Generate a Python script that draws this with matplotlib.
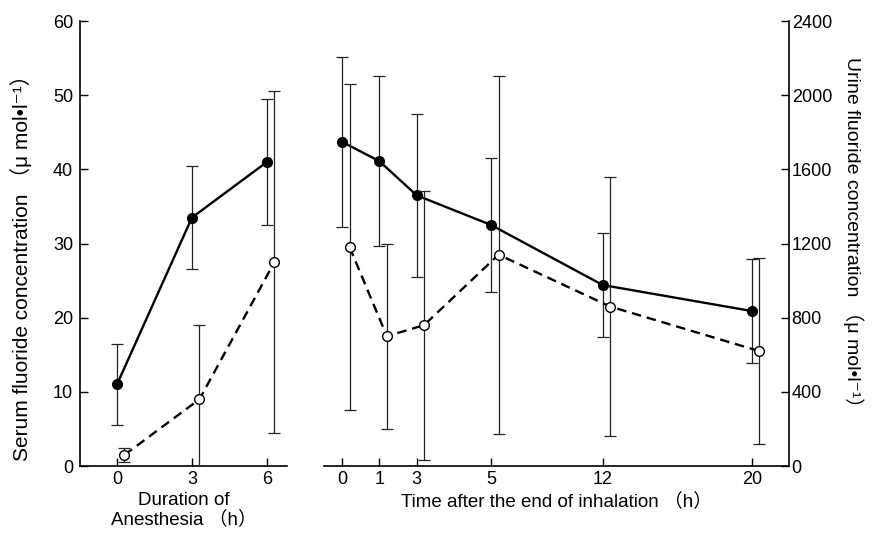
"""Serum (filled) and urine (open) fluoride during anesthesia and after inhalation."""
import matplotlib
matplotlib.use("Agg")
import matplotlib.pyplot as plt

plt.rcParams["font.family"] = ["Liberation Sans", "Noto Sans CJK JP", "DejaVu Sans"]

# --- data ---
# during anesthesia (h)
ANES_H = [0, 3, 6]
ANES_SERUM = [11.0, 33.5, 41.0]          # umol/l
ANES_SERUM_SD = [5.5, 7.0, 8.5]
ANES_URINE = [60, 360, 1100]             # umol/l
ANES_URINE_SD = [38, 400, 920]

# after the end of inhalation (h); axis is not to scale
POST_LABELS = ["0", "1", "3", "5", "12", "20"]
POST_SERUM = [43.7, 41.1, 36.5, 32.5, 24.4, 20.9]
POST_SERUM_SD = [11.5, 11.5, 11.0, 9.0, 7.0, 7.0]
POST_URINE = [1180, 700, 760, 1140, 860, 620]
POST_URINE_SD = [880, 500, 725, 965, 700, 500]

# layout: tick position of each post-inhalation time on the broken axis
POST_POS = [0, 1, 2, 4, 7, 11]
OPEN_SHIFT_ANES = 0.3
OPEN_SHIFT_POST = 0.2

FS = 13.5
err_kw = dict(ecolor="#222222", elinewidth=0.9, capsize=4.5, capthick=0.9)
solid_kw = dict(color="black", lw=1.7, marker="o", ms=7, mfc="black", mec="black", zorder=3)
dash_kw = dict(color="black", lw=1.7, ls=(0, (4, 2.5)), marker="o", ms=7, mfc="white",
               mec="black", mew=1.0, zorder=3)

fig = plt.figure(figsize=(8.73, 5.34), dpi=100)
axl = fig.add_axes([0.0916, 0.1273, 0.2371, 0.8333])
axr = fig.add_axes([0.3711, 0.1273, 0.5326, 0.8333])
axl2 = axl.twinx()
axr2 = axr.twinx()

# left panel
axl.errorbar(ANES_H, ANES_SERUM, yerr=ANES_SERUM_SD, fmt="none", **err_kw)
axl.plot(ANES_H, ANES_SERUM, **solid_kw)
xs = [h + OPEN_SHIFT_ANES for h in ANES_H]
axl2.errorbar(xs, ANES_URINE, yerr=ANES_URINE_SD, fmt="none", **err_kw)
axl2.plot(xs, ANES_URINE, **dash_kw)

# right panel
axr.errorbar(POST_POS, POST_SERUM, yerr=POST_SERUM_SD, fmt="none", **err_kw)
axr.plot(POST_POS, POST_SERUM, **solid_kw)
xs = [p + OPEN_SHIFT_POST for p in POST_POS]
axr2.errorbar(xs, POST_URINE, yerr=POST_URINE_SD, fmt="none", **err_kw)
axr2.plot(xs, POST_URINE, **dash_kw)

for ax in (axl, axl2):
    ax.set_xlim(-1.48, 6.8)
for ax in (axr, axr2):
    ax.set_xlim(-0.49, 12.0)
for ax in (axl, axr):
    ax.set_ylim(0, 60)
for ax in (axl2, axr2):
    ax.set_ylim(0, 2400)

for ax in (axl, axl2, axr, axr2):
    for s in ax.spines.values():
        s.set_visible(False)
    ax.patch.set_visible(False)
    ax.tick_params(direction="in", length=6, width=1.0, labelsize=13, color="black")

for ax, side in ((axl, "left"), (axl, "bottom"), (axr, "bottom"), (axr2, "right")):
    ax.spines[side].set_visible(True)
    ax.spines[side].set_linewidth(1.2)

axl.set_xticks(ANES_H, [str(h) for h in ANES_H])
axl.set_yticks(range(0, 61, 10))
axl.tick_params(axis="y", pad=5)
axl2.set_yticks([])
axl2.tick_params(axis="x", bottom=False, labelbottom=False)

axr.set_xticks(POST_POS, POST_LABELS)
axr.set_yticks([])
axr2.set_yticks(range(0, 2401, 400))
axr2.tick_params(axis="y", pad=2)
axr2.tick_params(axis="x", bottom=False, labelbottom=False)

axl.set_xlabel("Duration of\nAnesthesia （h）", fontsize=FS, linespacing=1.1, labelpad=3)
axr.set_xlabel("Time after the end of inhalation （h）", fontsize=FS, labelpad=3)

fig.text(0.024, 0.508, "Serum fluoride concentration （μ mol•l⁻¹）",
         rotation=90, ha="center", va="center", fontsize=15)
fig.text(0.977, 0.556, "Urine fluoride concentration （μ mol•l⁻¹）",
         rotation=-90, ha="center", va="center", fontsize=14)

fig.savefig("out.png", dpi=100)
